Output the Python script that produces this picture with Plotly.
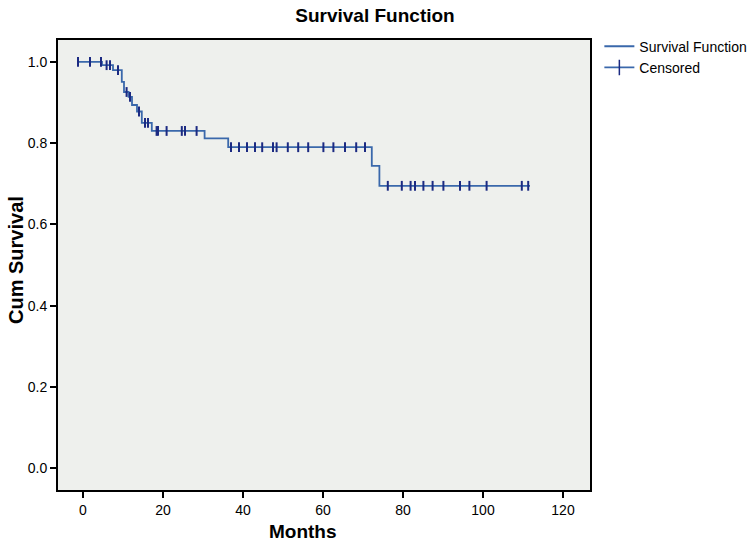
import numpy as np
import plotly.graph_objects as go

# Kaplan-Meier step curve (months, cumulative survival)
step_times = [-1.5, 4.75, 7.5, 9.7, 10.25, 11.4, 12.25, 13.5, 14.7, 17.2, 30.4, 36.3, 72.2, 74.1, 111.75]
step_surv = [1.0, 0.992, 0.980, 0.951, 0.926, 0.914, 0.894, 0.878, 0.850, 0.830, 0.812, 0.790, 0.744, 0.695, 0.695]

# Censored observations (months)
censor_times = [-1.25, 1.75, 4.5, 5.9, 6.75, 8.75, 10.9, 11.75, 14.0, 15.5, 16.25, 18.4, 18.75,
                20.9, 24.7, 25.5, 28.4, 37, 39, 41, 43, 44.8, 47.5, 48.4, 51.2, 53.8, 56.3,
                60.1, 62.6, 65.5, 68.3, 70.5, 76.2, 79.7, 81.9, 83, 85.1, 87.4, 90.1, 94.25,
                96.6, 100.9, 109.7, 111.3]

x_ticks = [0, 20, 40, 60, 80, 100, 120]
y_ticks = [0.0, 0.2, 0.4, 0.6, 0.8, 1.0]

# survival value at each censor time (lookup on the step function)
idx = np.searchsorted(np.array(step_times), np.array(censor_times), side="right") - 1
censor_surv = [step_surv[i] for i in idx]

LINE = "#3a68ab"
MARK = "#1b2a82"
FONT = "Liberation Sans, Arial, sans-serif"

W, H = 756, 543
L, T, PW, PH = 58, 40, 532, 450

fig = go.Figure()
fig.add_trace(go.Scatter(x=step_times, y=step_surv, mode="lines", line=dict(color=LINE, width=1.8, shape="hv"),
                         name="Survival Function", showlegend=True))
fig.add_trace(go.Scatter(x=censor_times, y=censor_surv, mode="markers",
                         marker=dict(symbol="line-ns", size=7, line=dict(color=MARK, width=2)),
                         name="Censored", showlegend=False))
fig.add_trace(go.Scatter(x=[None], y=[None], mode="lines+markers", line=dict(color=LINE, width=1.8),
                         marker=dict(symbol="line-ns", size=11, line=dict(color=MARK, width=1.5)),
                         name="Censored", showlegend=True))

fig.update_layout(
    width=W, height=H,
    margin=dict(l=L, r=W - L - PW, t=T, b=H - T - PH, autoexpand=False),
    paper_bgcolor="white", plot_bgcolor="#eef0ed",
    font=dict(family=FONT, size=13, color="black"),
    title=dict(text="<b>Survival Function</b>", x=375 / W, xanchor="center", y=1 - 15 / H, yanchor="middle",
               font=dict(size=19, family=FONT, color="black")),
    legend=dict(x=1.0176, y=1.0208, xanchor="left", yanchor="top", bgcolor="rgba(0,0,0,0)",
                font=dict(size=14, family=FONT, color="black"), tracegroupgap=0, itemwidth=30),
    xaxis=dict(range=[-6.25, 126.75], tickvals=x_ticks, ticktext=[str(v) for v in x_ticks],
               showgrid=False, zeroline=False, showline=True, mirror=True, linecolor="black", linewidth=2,
               ticks="outside", ticklen=6, tickwidth=2, tickcolor="black", automargin=False,
               tickfont=dict(size=14, family=FONT)),
    yaxis=dict(range=[-0.054, 1.054], tickvals=y_ticks, ticktext=[f"{v:.1f}" for v in y_ticks],
               showgrid=False, zeroline=False, showline=True, mirror=True, linecolor="black", linewidth=2,
               ticks="outside", ticklen=6, tickwidth=2, tickcolor="black", automargin=False,
               tickfont=dict(size=14, family=FONT)),
    annotations=[
        dict(text="<b>Months</b>", xref="paper", yref="paper", x=(303 - L) / PW, y=-(531 - 490) / PH,
             xanchor="center", yanchor="middle", showarrow=False, font=dict(size=19, family=FONT)),
        dict(text="<b>Cum Survival</b>", xref="paper", yref="paper", x=-(L - 16) / PW, y=(490 - 260) / PH,
             xanchor="center", yanchor="middle", textangle=-90, showarrow=False, font=dict(size=20, family=FONT)),
    ],
)

# remove the default 8px page margin so the figure sits at the window corner
fig.write_html("out.html", config={"displayModeBar": False},
               post_script="document.body.style.margin='0';")
